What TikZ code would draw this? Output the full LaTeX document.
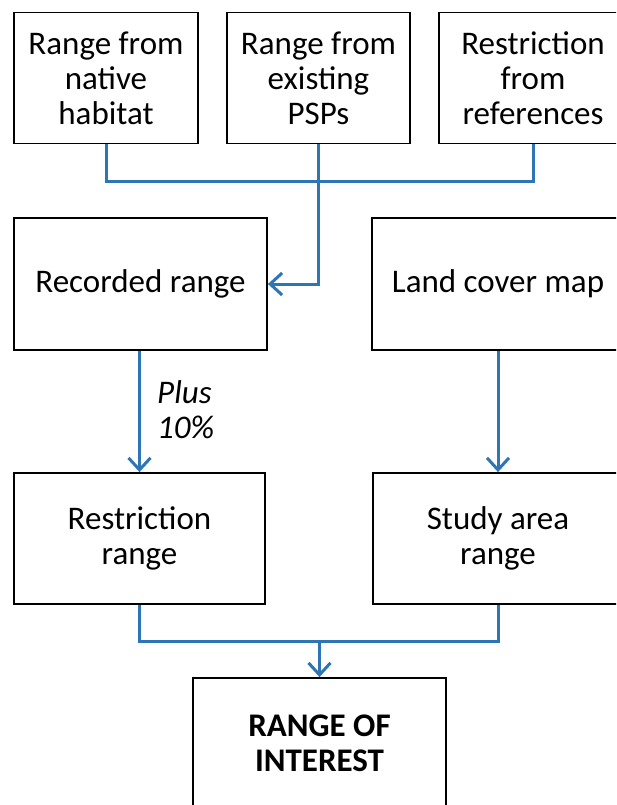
\documentclass[tikz,border=0pt]{standalone}
\usepackage{fontspec}
\setmainfont{Carlito}
\usetikzlibrary{arrows.meta}
\definecolor{flowblue}{RGB}{46,117,182}
\begin{document}
\begin{tikzpicture}[x=1pt,y=-1pt,
  boxnode/.style={draw=black, line width=1.8pt, inner sep=0pt, align=center,
    font=\fontsize{33}{35}\selectfont, minimum height=131pt},
  flow/.style={draw=flowblue, line width=3pt},
  flowarrow/.style={flow, -{Straight Barb[length=12pt,width=22pt,line width=3pt]}}]
\useasboundingbox (0,0) rectangle (616,805);
\clip (0,0) rectangle (616,805);
\node[boxnode, minimum width=184pt] (n1) at (106,78) {Range from\\native\\habitat};
\node[boxnode, minimum width=183pt] (n2) at (318.5,78) {Range from\\existing\\PSPs};
\node[boxnode, minimum width=188pt] (n3) at (533,78) {Restriction\\from\\references};
\node[boxnode, minimum width=253pt, minimum height=132pt] (rec) at (140.5,284) {Recorded range};
\node[boxnode, minimum width=252pt, minimum height=132pt] (land) at (498,284) {Land cover map};
\node[boxnode, minimum width=251pt] (restr) at (139.5,538.5) {Restriction\\range};
\node[boxnode, minimum width=250pt] (study) at (498,538.5) {Study area\\range};
\node[boxnode, minimum width=253pt, font=\fontsize{33}{35}\selectfont\bfseries] (roi) at (319.5,743.5) {RANGE OF\\INTEREST};
\node[anchor=west, inner sep=0pt, align=left, font=\fontsize{33}{35}\selectfont\itshape] (plus) at (157,409.5) {Plus\\10\%};
\coordinate (j) at (318.5,182);
\coordinate (k) at (319.5,641);
\draw[flow] (n1.south) |- (j) -| (n3.south);
\draw[flowarrow] (n2.south) |- (rec.east);
\draw[flowarrow] (rec.south -| restr.north) -- (restr.north);
\draw[flowarrow] (land.south) -- (study.north);
\draw[flow] (restr.south) |- (k) -| (study.south);
\draw[flowarrow] (k) -- (roi.north);
\end{tikzpicture}
\end{document}
